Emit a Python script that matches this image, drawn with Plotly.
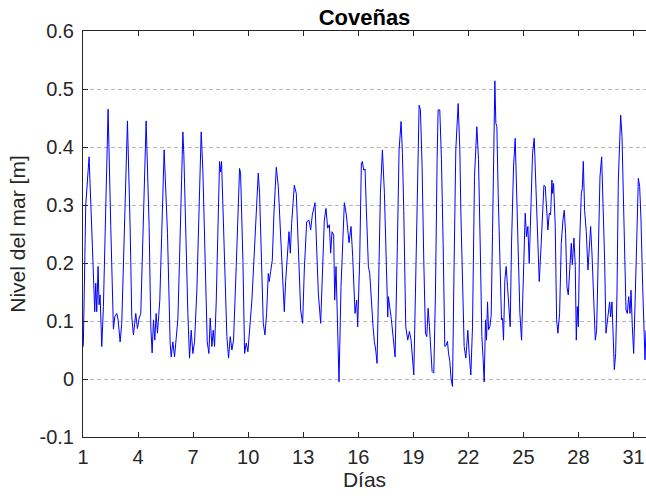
import plotly.graph_objects as go

# Sea level record, Coveñas (time in days, level in metres)
dias = [
    # days 1-6
    1.00, 1.02, 1.15, 1.331, 1.513, 1.640, 1.695, 1.749, 1.822, 1.876,
    1.931, 2.022, 2.113, 2.25, 2.367, 2.513, 2.603, 2.658, 2.731, 2.840,
    2.913, 3.022, 3.113, 3.27, 3.422, 3.567, 3.658, 3.749, 3.876, 3.967,
    4.058, 4.149, 4.30, 4.440, 4.604, 4.695, 4.767, 4.840, 4.913, 4.985,
    5.058, 5.185, 5.422, 5.604, 5.749,
    # days 6-11
    5.805, 5.896, 5.987, 6.078, 6.169, 6.26, 6.441, 6.496, 6.623, 6.714,
    6.805, 6.896, 6.987, 7.078, 7.205, 7.441, 7.532, 7.678, 7.769, 7.86,
    7.932, 8.023, 8.096, 8.169, 8.26, 8.441, 8.496, 8.55, 8.714, 8.841,
    8.932, 9.023, 9.114, 9.205, 9.35, 9.532, 9.587, 9.714, 9.805, 9.896,
    9.987, 10.078, 10.205, 10.314, 10.405, 10.55, 10.623, 10.732,
    # days 11-16
    10.824, 10.915, 11.006, 11.097, 11.151, 11.224, 11.315, 11.406, 11.533, 11.642,
    11.733, 11.824, 11.969, 12.042, 12.151, 12.224, 12.297, 12.369, 12.515, 12.624,
    12.733, 12.86, 12.969, 13.06, 13.188, 13.315, 13.406, 13.497, 13.642, 13.733,
    13.824, 13.951, 14.06, 14.151, 14.242, 14.333, 14.424, 14.497, 14.569, 14.66,
    14.715, 14.788, 14.86, 14.951, 15.06, 15.151, 15.242, 15.351, 15.497, 15.606,
    15.697, 15.824, 15.915, 15.969, 16.078, 16.169,
    # days 16-21
    16.225, 16.297, 16.37, 16.443, 16.552, 16.625, 16.697, 16.752, 16.807, 16.879,
    16.952, 17.025, 17.116, 17.207, 17.316, 17.425, 17.534, 17.607, 17.643, 17.716,
    17.807, 17.898, 18.007, 18.116, 18.225, 18.334, 18.407, 18.479, 18.588, 18.697,
    18.788, 18.879, 18.952, 19.025, 19.116, 19.207, 19.316, 19.389, 19.479, 19.57,
    19.661, 19.734, 19.807, 19.88, 19.952, 20.025, 20.116, 20.207, 20.297, 20.352,
    20.443, 20.534, 20.625, 20.716,
    # days 21-26
    20.79, 20.862, 20.916, 20.99, 21.06, 21.135, 21.226, 21.316, 21.444, 21.535,
    21.589, 21.68, 21.771, 21.862, 21.971, 22.044, 22.135, 22.226, 22.335, 22.462,
    22.553, 22.644, 22.735, 22.807, 22.862, 22.935, 22.989, 23.044, 23.1, 23.171,
    23.244, 23.316, 23.389, 23.444, 23.498, 23.553, 23.625, 23.716, 23.807, 23.862,
    23.916, 23.989, 24.062, 24.135, 24.207, 24.28, 24.353, 24.462, 24.553, 24.626,
    24.716, 24.807, 24.898, 24.989, 25.098, 25.171, 25.244, 25.316, 25.407, 25.498,
    25.589, 25.68, 25.771, 25.862,
    # days 26-31
    25.97, 26.063, 26.117, 26.19, 26.263, 26.335, 26.408, 26.48, 26.553, 26.59,
    26.645, 26.735, 26.808, 26.88, 26.972, 27.063, 27.154, 27.226, 27.299, 27.372,
    27.445, 27.517, 27.608, 27.663, 27.754, 27.826, 27.881, 27.935, 27.99, 28.063,
    28.154, 28.208, 28.263, 28.335, 28.426, 28.517, 28.59, 28.663, 28.735, 28.826,
    28.917, 28.99, 29.063, 29.172, 29.263, 29.335, 29.426, 29.499, 29.572, 29.645,
    29.699, 29.754, 29.826, 29.899, 29.954, 30.026, 30.099, 30.172, 30.245, 30.299,
    30.372, 30.445, 30.517, 30.59, 30.663, 30.736, 30.808, 30.863, 30.935, 31.008,
    31.099, 31.19, 31.263, 31.335, 31.408, 31.499, 31.59, 31.626, 31.68,
]

nivel = [
    # days 1-6
    0.055, 0.062, 0.30, 0.383, 0.228, 0.116, 0.165, 0.116, 0.194, 0.128,
    0.145, 0.056, 0.125, 0.30, 0.465, 0.263, 0.148, 0.086, 0.107, 0.113,
    0.102, 0.064, 0.096, 0.30, 0.445, 0.263, 0.107, 0.076, 0.113, 0.087,
    0.105, 0.113, 0.30, 0.445, 0.263, 0.090, 0.045, 0.102, 0.067, 0.113,
    0.079, 0.136, 0.395, 0.251, 0.062,
    # days 6-11
    0.038, 0.064, 0.038, 0.070, 0.102, 0.205, 0.426, 0.386, 0.205, 0.113,
    0.036, 0.084, 0.044, 0.064, 0.153, 0.426, 0.360, 0.194, 0.064, 0.044,
    0.105, 0.056, 0.084, 0.056, 0.133, 0.375, 0.357, 0.375, 0.205, 0.073,
    0.036, 0.073, 0.050, 0.067, 0.194, 0.363, 0.355, 0.205, 0.044, 0.062,
    0.047, 0.084, 0.136, 0.205, 0.274, 0.355, 0.320, 0.217,
    # days 11-16
    0.096, 0.076, 0.113, 0.182, 0.168, 0.185, 0.205, 0.286, 0.365, 0.332,
    0.274, 0.194, 0.116, 0.168, 0.222, 0.254, 0.217, 0.268, 0.334, 0.320,
    0.228, 0.119, 0.096, 0.188, 0.271, 0.274, 0.257, 0.283, 0.304, 0.240,
    0.148, 0.096, 0.182, 0.274, 0.294, 0.260, 0.266, 0.217, 0.254, 0.248,
    0.136, 0.194, 0.107, -0.005, 0.159, 0.245, 0.304, 0.283, 0.235, 0.263,
    0.211, 0.113, 0.136, 0.090, 0.205, 0.372,
    # days 16-21
    0.375, 0.360, 0.362, 0.291, 0.194, 0.182, 0.142, 0.125, 0.090, 0.064,
    0.050, 0.027, 0.148, 0.320, 0.395, 0.320, 0.194, 0.107, 0.142, 0.125,
    0.102, 0.073, 0.038, 0.205, 0.395, 0.444, 0.389, 0.291, 0.090, 0.067,
    0.082, 0.067, 0.033, 0.007, 0.148, 0.320, 0.472, 0.464, 0.366, 0.205,
    0.079, 0.073, 0.122, 0.090, 0.056, 0.013, 0.010, 0.148, 0.378, 0.464,
    0.464, 0.378, 0.234, 0.056,
    # days 21-26
    0.058, 0.065, 0.045, 0.030, 0.000, -0.013, 0.205, 0.395, 0.475, 0.395,
    0.291, 0.148, 0.056, 0.036, 0.084, 0.044, 0.007, 0.090, 0.349, 0.435,
    0.378, 0.234, 0.073, 0.033, -0.005, 0.102, 0.067, 0.133, 0.085, 0.090,
    0.110, 0.251, 0.435, 0.514, 0.441, 0.435, 0.320, 0.194, 0.102, 0.105,
    0.067, 0.171, 0.194, 0.159, 0.125, 0.090, 0.234, 0.366, 0.415, 0.320,
    0.194, 0.113, 0.067, 0.176, 0.286, 0.245, 0.263, 0.199, 0.320, 0.389,
    0.415, 0.332, 0.228, 0.168,
    # days 26-31
    0.234, 0.309, 0.334, 0.332, 0.297, 0.257, 0.286, 0.283, 0.343, 0.320,
    0.337, 0.263, 0.102, 0.079, 0.113, 0.234, 0.274, 0.291, 0.251, 0.159,
    0.145, 0.182, 0.234, 0.197, 0.243, 0.194, 0.067, 0.125, 0.090, 0.234,
    0.320, 0.328, 0.375, 0.291, 0.254, 0.188, 0.234, 0.263, 0.217, 0.136,
    0.067, 0.084, 0.205, 0.349, 0.383, 0.320, 0.205, 0.079, 0.096, 0.113,
    0.133, 0.107, 0.133, 0.067, 0.016, 0.044, 0.148, 0.343, 0.406, 0.455,
    0.418, 0.332, 0.205, 0.119, 0.113, 0.142, 0.113, 0.153, 0.090, 0.044,
    0.148, 0.291, 0.346, 0.332, 0.274, 0.159, 0.067, 0.033, 0.084,
]

assert len(dias) == len(nivel)

x_ticks = [1, 4, 7, 10, 13, 16, 19, 22, 25, 28, 31]
y_ticks = [-0.1, 0, 0.1, 0.2, 0.3, 0.4, 0.5, 0.6]
y_labels = ["-0.1", "0", "0.1", "0.2", "0.3", "0.4", "0.5", "0.6"]

AX = "#262626"
FONT = "Liberation Sans, Arial, Helvetica, sans-serif"

fig = go.Figure()
fig.add_trace(go.Scatter(
    x=dias, y=nivel, mode="lines",
    line=dict(color="#0000ff", width=1),
    showlegend=False,
))

fig.update_layout(
    width=646, height=498,
    margin=dict(l=83, r=0, t=31, b=61),
    paper_bgcolor="white", plot_bgcolor="white",
    font=dict(family=FONT, color=AX, size=20),
    title=dict(text="<b>Coveñas</b>", x=0.5, xref="paper", xanchor="center",
               y=1, yref="paper", yanchor="bottom", pad=dict(b=6),
               font=dict(size=22, color="black", family=FONT)),
    xaxis=dict(
        range=[1, 31.68], tickvals=x_ticks, ticktext=[str(t) for t in x_ticks],
        ticks="inside", ticklen=5, tickcolor=AX, tickwidth=1,
        showline=True, linecolor=AX, linewidth=1, mirror="ticks",
        showgrid=False, zeroline=False,
        tickfont=dict(size=20, color=AX),
        ticklabelstandoff=2,
        title=dict(text="Días", font=dict(size=21, color=AX), standoff=2),
    ),
    yaxis=dict(
        range=[-0.1, 0.6], tickvals=y_ticks, ticktext=y_labels,
        ticks="inside", ticklen=5, tickcolor=AX, tickwidth=1,
        showline=True, linecolor=AX, linewidth=1,
        showgrid=True, gridcolor="#b8b8b8", gridwidth=1, griddash="4px,3px",
        zeroline=False,
        tickfont=dict(size=20, color=AX),
        ticklabelstandoff=4,
        title=dict(text="Nivel del mar [m]", font=dict(size=21, color=AX), standoff=8),
    ),
)

fig.write_html("out.html")
